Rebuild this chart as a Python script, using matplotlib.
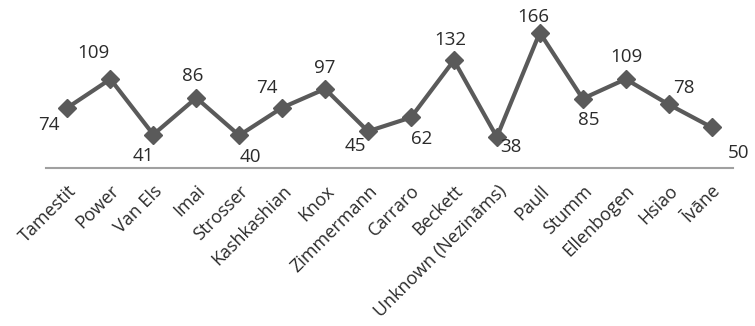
import matplotlib
matplotlib.use('Agg')
import matplotlib.pyplot as plt

names = ['Tamestit', 'Power', 'Van Els', 'Imai', 'Strosser', 'Kashkashian', 'Knox',
         'Zimmermann', 'Carraro', 'Beckett', 'Unknown (Nezināms)', 'Paull', 'Stumm',
         'Ellenbogen', 'Hsiao', 'Īvāne']
counts = [74, 109, 41, 86, 40, 74, 97, 45, 62, 132, 38, 166, 85, 109, 78, 50]

# where each value label sits relative to its marker (pixels)
label_offsets = [(-19, -17), (-17, 26), (-10, -21), (-4, 22), (11, -22), (-15, 20),
                 (0, 21), (-13, -15), (11, -22), (-4, 20), (14, -10), (-6, 16),
                 (6, -21), (1, 22), (15, 16), (27, -26)]

plt.rcParams['font.family'] = ['Open Sans', 'DejaVu Sans']

fig = plt.figure(figsize=(7.55, 3.26), dpi=100)
ax = fig.add_axes([46 / 755, 1 - 168 / 326, 687 / 755, 168 / 326])

x = range(len(names))
ax.plot(x, counts, color='#5a5a5a', linewidth=3, marker='D', markersize=9,
        markerfacecolor='#5a5a5a', markeredgecolor='#5a5a5a')

for i, v in enumerate(counts):
    dx, dy = label_offsets[i]
    ax.annotate(str(v), (i, v), xytext=(dx, dy), textcoords='offset pixels',
                ha='center', va='center', fontsize=13.5, color='#2b2b2b')

ax.set_xlim(-0.5, len(names) - 0.5)
ax.set_ylim(0, 206)
ax.set_yticks([])
ax.set_xticks(list(x))
ax.set_xticklabels(names, rotation=45, ha='right', rotation_mode='anchor',
                   fontsize=13, color='#2b2b2b')
ax.tick_params(axis='x', length=0, pad=10)

for side in ['left', 'right', 'top']:
    ax.spines[side].set_visible(False)
ax.spines['bottom'].set_color('#a0a0a0')
ax.spines['bottom'].set_linewidth(1.5)
ax.patch.set_alpha(0)

fig.savefig('out.png', dpi=100)
